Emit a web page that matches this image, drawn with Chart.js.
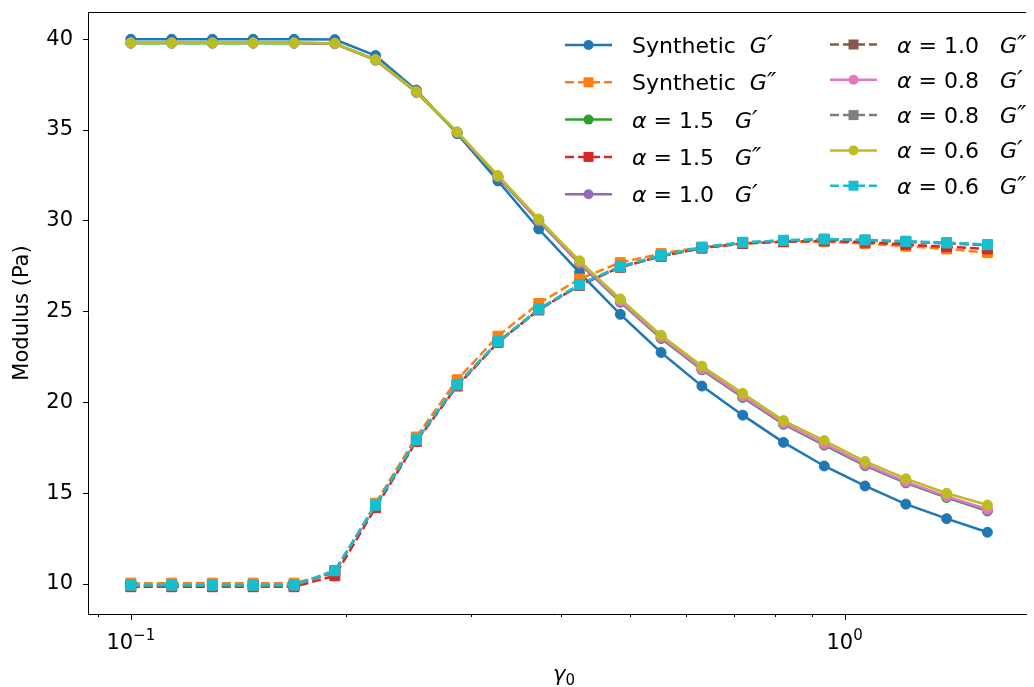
<!DOCTYPE html>
<html>
<head>
<meta charset="utf-8">
<script src="https://cdn.jsdelivr.net/npm/chart.js@4.4.1/dist/chart.umd.min.js"></script>
<style>
    html, body { margin: 0; padding: 0; background: #fff; }
    #wrap { width: 1034px; height: 687px; position: relative; }
</style>
</head>
<body>
<div id="wrap"><canvas id="modulusChart"></canvas></div>
<script>
// strain amplitude gamma_0
const gamma0 = [0.1, 0.1141, 0.1301, 0.1484, 0.1693, 0.1931, 0.2202, 0.2512, 0.2865, 0.3268, 0.3728,
    0.4252, 0.4850, 0.5532, 0.6310, 0.7197, 0.8209, 0.9363, 1.0680, 1.2182, 1.3895, 1.5849];

// storage (G') and loss (G'') modulus, Pa
const synthG1 = [40.0, 40.0, 40.0, 40.0, 40.0, 39.98, 39.1, 37.2, 34.8, 32.2, 29.55, 27.15, 24.85, 22.75, 20.9, 19.3, 17.8, 16.5, 15.4, 14.4, 13.6, 12.85];
const synthG2 = [10.05, 10.05, 10.05, 10.05, 10.05, 10.6, 14.45, 18.1, 21.25, 23.65, 25.45, 26.8, 27.7, 28.2, 28.55, 28.75, 28.85, 28.85, 28.75, 28.6, 28.45, 28.25];
const a15G1 = [39.78, 39.78, 39.78, 39.78, 39.78, 39.75, 38.85, 37.08, 34.85, 32.4, 29.98, 27.65, 25.52, 23.52, 21.8, 20.27, 18.8, 17.65, 16.52, 15.57, 14.76, 14.02];
const a15G2 = [9.85, 9.85, 9.85, 9.85, 9.85, 10.45, 14.2, 17.85, 20.9, 23.3, 25.1, 26.45, 27.45, 28.05, 28.5, 28.75, 28.85, 28.9, 28.82, 28.7, 28.57, 28.45];
const a10G1 = [39.8, 39.8, 39.8, 39.8, 39.8, 39.77, 38.86, 37.09, 34.87, 32.43, 30.0, 27.68, 25.56, 23.56, 21.83, 20.31, 18.83, 17.69, 16.55, 15.6, 14.8, 14.06];
const a10G2 = [9.9, 9.9, 9.9, 9.9, 9.9, 10.7, 14.3, 17.9, 20.95, 23.3, 25.1, 26.45, 27.45, 28.05, 28.5, 28.78, 28.9, 28.96, 28.92, 28.84, 28.76, 28.66];
const a08G1 = [39.8, 39.8, 39.8, 39.8, 39.8, 39.77, 38.87, 37.1, 34.88, 32.45, 30.03, 27.72, 25.6, 23.6, 21.87, 20.35, 18.87, 17.73, 16.6, 15.64, 14.83, 14.12];
const a08G2 = [9.92, 9.92, 9.92, 9.92, 9.92, 10.72, 14.32, 17.93, 20.97, 23.33, 25.13, 26.48, 27.48, 28.08, 28.53, 28.8, 28.92, 28.98, 28.94, 28.86, 28.78, 28.68];
const a06G1 = [39.8, 39.8, 39.8, 39.8, 39.8, 39.78, 38.88, 37.12, 34.9, 32.5, 30.1, 27.8, 25.7, 23.7, 22.0, 20.5, 19.0, 17.9, 16.75, 15.8, 15.0, 14.35];
const a06G2 = [9.95, 9.95, 9.95, 9.95, 9.95, 10.75, 14.35, 17.95, 21.0, 23.35, 25.15, 26.5, 27.5, 28.1, 28.55, 28.82, 28.93, 29.0, 28.95, 28.88, 28.8, 28.7];

const seriesLabels = ['Synthetic  G′', 'Synthetic  G″', 'α = 1.5   G′', 'α = 1.5   G″', 'α = 1.0   G′',
    'α = 1.0   G″', 'α = 0.8   G′', 'α = 0.8   G″', 'α = 0.6   G′', 'α = 0.6   G″'];
const seriesValues = [synthG1, synthG2, a15G1, a15G2, a10G1, a10G2, a08G1, a08G2, a06G1, a06G2];
const seriesColors = ['#1f77b4', '#ff7f0e', '#2ca02c', '#d62728', '#9467bd',
    '#8c564b', '#e377c2', '#7f7f7f', '#bcbd22', '#17becf'];

// axis ticks
const yTicks = [10, 15, 20, 25, 30, 35, 40];
const xMajorTicks = [0.1, 1];
const xMajorLabels = [['10', '−1'], ['10', '0']];
const xMinorTicks = [0.09, 0.2, 0.3, 0.4, 0.5, 0.6, 0.7, 0.8, 0.9];

const FONT = 'DejaVu Sans';
const FS = 21;      // axis font size, px
const LFS = 22;     // legend font size
const SUB = 15;     // super/subscript size
const DASH = [9, 4];

function isDashed(i) { return i % 2 === 1; }

const datasets = seriesValues.map((vals, i) => ({
    label: seriesLabels[i],
    data: vals.map((v, k) => ({x: gamma0[k], y: v})),
    borderColor: seriesColors[i],
    backgroundColor: seriesColors[i],
    borderWidth: 2.5,
    borderDash: isDashed(i) ? DASH : [],
    pointStyle: isDashed(i) ? 'rect' : 'circle',
    pointRadius: isDashed(i) ? 7 : 5,
    pointBorderWidth: 1,
    pointHoverRadius: isDashed(i) ? 7 : 5,
    tension: 0,
    order: seriesValues.length - i  // later series on top, like matplotlib
}));

// text with italic math parts (α, G) and slightly bigger primes
function drawMath(ctx, text, x, y, size) {
    const runs = [];
    for (const ch of text) {
        const kind = /[′″]/.test(ch) ? 'p' : (/[αG]/.test(ch) ? 'i' : 'n');
        if (runs.length && runs[runs.length - 1].k === kind) runs[runs.length - 1].s += ch;
        else runs.push({k: kind, s: ch});
    }
    let cx = x;
    runs.forEach(r => {
        if (r.k === 'p') ctx.font = 'italic ' + Math.round(size * 1.15) + 'px "' + FONT + '"';
        else ctx.font = (r.k === 'i' ? 'italic ' : '') + size + 'px "' + FONT + '"';
        ctx.fillText(r.s, cx, y);
        cx += ctx.measureText(r.s).width;
    });
}

const mplExtras = {
    id: 'mplExtras',
    afterDraw(chart) {
        const ctx = chart.ctx;
        const area = chart.chartArea;
        const xs = chart.scales.x;
        ctx.save();

        // top spine
        ctx.strokeStyle = '#000';
        ctx.lineWidth = 1;
        ctx.beginPath();
        ctx.moveTo(area.left, area.top + 0.5);
        ctx.lineTo(area.right, area.top + 0.5);
        ctx.stroke();

        // x ticks (log axis)
        const drawTick = (v, len) => {
            const px = Math.round(xs.getPixelForValue(v)) + 0.5;
            ctx.beginPath();
            ctx.moveTo(px, area.bottom);
            ctx.lineTo(px, area.bottom + len);
            ctx.stroke();
        };
        xMajorTicks.forEach(v => drawTick(v, 6));
        xMinorTicks.forEach(v => drawTick(v, 3));

        ctx.fillStyle = '#000';
        ctx.textBaseline = 'alphabetic';
        xMajorTicks.forEach((v, i) => {
            const [base, sup] = xMajorLabels[i];
            ctx.font = FS + 'px "' + FONT + '"';
            const wb = ctx.measureText(base).width;
            ctx.font = SUB + 'px "' + FONT + '"';
            const ws = ctx.measureText(sup).width;
            const x0 = xs.getPixelForValue(v) - (wb + ws) / 2;
            const by = area.bottom + 35;
            ctx.font = FS + 'px "' + FONT + '"';
            ctx.fillText(base, x0, by);
            ctx.font = SUB + 'px "' + FONT + '"';
            ctx.fillText(sup, x0 + wb, by - 9);
        });

        // x axis title: gamma_0
        ctx.font = 'italic ' + FS + 'px "' + FONT + '"';
        const wg = ctx.measureText('γ').width;
        ctx.font = SUB + 'px "' + FONT + '"';
        const w0 = ctx.measureText('0').width;
        const gx = (area.left + 1040) / 2 - (wg + w0) / 2;
        ctx.font = 'italic ' + FS + 'px "' + FONT + '"';
        ctx.fillText('γ', gx, 681);
        ctx.font = SUB + 'px "' + FONT + '"';
        ctx.fillText('0', gx + wg, 685);

        // legend, two columns
        const cols = [{x: 565, y0: 45, dy: 37.3}, {x: 830, y0: 44.5, dy: 35.3}];
        chart.data.datasets.forEach((ds, i) => {
            const col = cols[Math.floor(i / 5)];
            const x = col.x;
            const y = col.y0 + (i % 5) * col.dy;
            ctx.strokeStyle = ds.borderColor;
            ctx.fillStyle = ds.borderColor;
            ctx.lineWidth = 2.5;
            ctx.setLineDash(ds.borderDash);
            ctx.beginPath();
            ctx.moveTo(x, y);
            ctx.lineTo(x + 47, y);
            ctx.stroke();
            ctx.setLineDash([]);
            const mx = x + 23.5;
            if (ds.pointStyle === 'rect') {
                ctx.fillRect(mx - 5, y - 5, 10, 10);
            } else {
                ctx.beginPath();
                ctx.arc(mx, y, 5, 0, Math.PI * 2);
                ctx.fill();
            }
            ctx.fillStyle = '#000';
            drawMath(ctx, ds.label, x + 67, y + 8, LFS);
        });
        ctx.restore();
    }
};

const modulusCanvas = document.getElementById('modulusChart');

const modulusChart = new Chart(modulusCanvas, {
    type: 'line',
    data: {datasets: datasets},
    options: {
        responsive: true,
        maintainAspectRatio: false,
        animation: false,
        devicePixelRatio: 1,
        layout: {padding: {top: 12, left: 0, right: 0, bottom: 0}},
        plugins: {
            legend: {display: false},
            tooltip: {enabled: false}
        },
        scales: {
            x: {
                type: 'logarithmic',
                min: 0.0871,
                max: 1.795,
                ticks: {display: false},
                grid: {display: false},
                border: {display: true, color: '#000', width: 1},
                afterFit(scale) {
                    scale.height = 73;
                    scale.paddingLeft = 0;
                    scale.paddingRight = 0;
                }
            },
            y: {
                type: 'linear',
                min: 8.35,
                max: 41.5,
                afterBuildTicks(scale) {
                    scale.ticks = yTicks.map(v => ({value: v}));
                },
                ticks: {
                    color: '#000',
                    padding: 10,
                    font: {family: FONT, size: FS}
                },
                grid: {
                    drawOnChartArea: false,
                    drawTicks: true,
                    tickLength: 5,
                    tickColor: '#000',
                    tickWidth: 1
                },
                border: {display: true, color: '#000', width: 1},
                title: {
                    display: true,
                    text: 'Modulus (Pa)',
                    color: '#000',
                    font: {family: FONT, size: FS},
                    padding: {top: 10, bottom: 0}
                },
                afterFit(scale) {
                    scale.width = 88;
                    scale.paddingTop = 0;
                    scale.paddingBottom = 0;
                }
            }
        }
    },
    plugins: [mplExtras]
});
</script>
</body>
</html>
